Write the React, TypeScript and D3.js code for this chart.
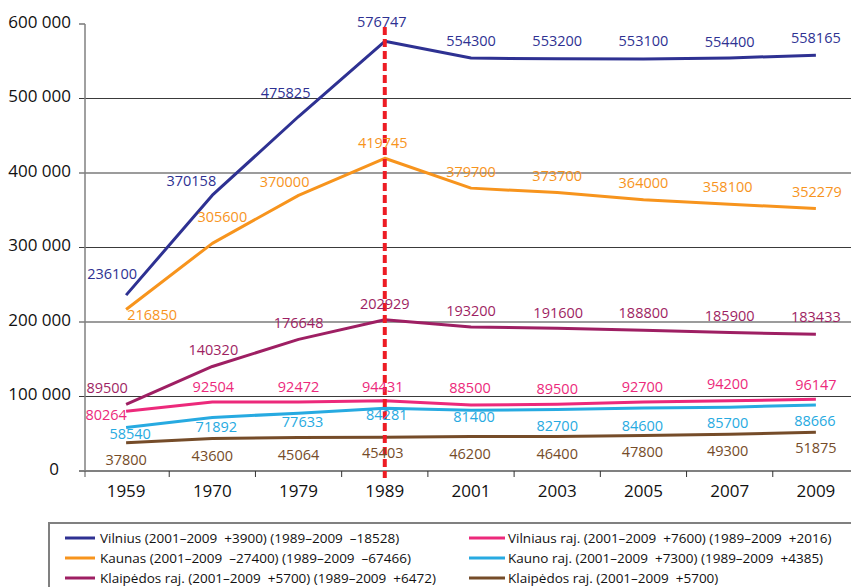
import React from "react";
import * as d3 from "d3";

const years = ["1959", "1970", "1979", "1989", "2001", "2003", "2005", "2007", "2009"];
const yTicks = [0, 100000, 200000, 300000, 400000, 500000, 600000];

const vilnius = [236100, 370158, 475825, 576747, 554300, 553200, 553100, 554400, 558165];
const kaunas = [216850, 305600, 370000, 419745, 379700, 373700, 364000, 358100, 352279];
const klaipeda = [89500, 140320, 176648, 202929, 193200, 191600, 188800, 185900, 183433];
const vilniausRaj = [80264, 92504, 92472, 94431, 88500, 89500, 92700, 94200, 96147];
const naunoRaj = [58540, 71892, 77633, 84281, 81400, 82700, 84600, 85700, 88666];
const klaipedosRaj = [37800, 43600, 45064, 45403, 46200, 46400, 47800, 49300, 51875];

const legendLabels = [
  "Vilnius (2001–2009  +3900) (1989–2009  –18528)",
  "Kaunas (2001–2009  –27400) (1989–2009  –67466)",
  "Klaipėdos raj. (2001–2009  +5700) (1989–2009  +6472)",
  "Vilniaus raj. (2001–2009  +7600) (1989–2009  +2016)",
  "Kauno raj. (2001–2009  +7300) (1989–2009  +4385)",
  "Klaipėdos raj. (2001–2009  +5700)",
];

// layout: label offsets (dx, dy) relative to each point
const labelDx = [
  [-14, -21, -13, -3, 0, 0, 0, 0, 0],
  [26, 10, -14, -2, 0, 0, 0, -2, 1],
  [-19, 1, 0, 0, 0, 1, 0, 0, 0],
  [-20, 1, 0, -2, -1, 0, -1, -2, 0],
  [4, 4, 4, 2, 3, 0, -1, -2, -1],
  [0, 0, 0, -2, -1, 0, -1, -2, 0],
];
const labelDy = [
  [-16, -9, -19, -14, -12, -13, -13, -11, -12],
  [11, -21, -8, -10, -11, -12, -12, -12, -12],
  [-11, -11, -11, -11, -11, -10, -12, -12, -12],
  [9, -10, -10, -9, -12, -10, -10, -12, -9],
  [12, 15, 14, 12, 12, 22, 23, 21, 21],
  [22, 22, 23, 21, 22, 23, 22, 22, 21],
];

const colors = ["#2e3192", "#f7941d", "#9e1f63", "#ec297b", "#27aae1", "#754c29"];
const series = [vilnius, kaunas, klaipeda, vilniausRaj, naunoRaj, klaipedosRaj];

export default function App() {
  const W = 851, H = 587;
  const x = d3.scaleBand<string>().domain(years).range([83, 859]);
  const y = d3.scaleLinear().domain([0, 600000]).range([471, 24]);
  const cx = (d: string) => (x(d) as number) + x.bandwidth() / 2;
  const line = d3
    .line<number>()
    .x((_, i) => cx(years[i]))
    .y((v) => y(v));
  const fmt = (v: number) => d3.format(",")(v).replace(/,/g, " ");
  const axisX = 85;
  const font = "'Open Sans', sans-serif";

  return (
    <svg width={W} height={H} style={{ position: "absolute", left: 0, top: 0, background: "#fff" }}>
      {/* gridlines */}
      {yTicks.filter((t) => t > 0 && t < 600000).map((t) => (
        <line key={t} x1={axisX - 6} x2={W} y1={y(t)} y2={y(t)} stroke="#3a3a3a" strokeWidth={1.2} />
      ))}
      <line x1={axisX - 6} x2={axisX} y1={y(600000)} y2={y(600000)} stroke="#777" strokeWidth={1.5} />
      {/* y axis */}
      <line x1={axisX} x2={axisX} y1={y(600000)} y2={y(0)} stroke="#808080" strokeWidth={1.5} />
      {/* x axis */}
      <line x1={axisX - 6} x2={W} y1={y(0)} y2={y(0)} stroke="#808080" strokeWidth={2} />
      {years.slice(0, -1).map((d) => (
        <line key={d} x1={(x(d) as number) + x.bandwidth()} x2={(x(d) as number) + x.bandwidth()} y1={y(0)} y2={y(0) + 6} stroke="#333" strokeWidth={1} />
      ))}
      <line x1={axisX} x2={axisX} y1={y(0)} y2={y(0) + 6} stroke="#555" strokeWidth={1} />
      {/* y tick labels */}
      {yTicks.map((t) => (
        <text key={t} x={t === 0 ? 59 : 71} y={y(t) - 1} textAnchor="end" dominantBaseline="middle" fontFamily={font} fontSize={17} fill="#111">
          {fmt(t)}
        </text>
      ))}
      {/* x tick labels */}
      {years.map((d) => (
        <text key={d} x={cx(d)} y={497} textAnchor="middle" fontFamily={font} fontSize={17} fill="#111">
          {d}
        </text>
      ))}
      {/* series lines */}
      {series.map((s, i) => (
        <path key={i} d={line(s) as string} fill="none" stroke={colors[i]} strokeWidth={3} strokeLinejoin="round" />
      ))}
      {/* 1989 dashed marker */}
      <line x1={cx("1989")} x2={cx("1989")} y1={27} y2={478} stroke="#ed1c24" strokeWidth={4} strokeDasharray="8 4" />
      {/* value labels */}
      {series.map((s, i) =>
        s.map((v, j) => (
          <text key={`${i}-${j}`} x={cx(years[j]) + labelDx[i][j]} y={y(v) + labelDy[i][j]} textAnchor="middle" fontFamily={font} fontSize={14.5} fill={colors[i]}>
            {v}
          </text>
        ))
      )}
      {/* legend */}
      <rect x={49} y={523} width={W} height={H} fill="none" stroke="#808080" strokeWidth={2} />
      {legendLabels.map((lab, i) => {
        const col = i < 3 ? 0 : 1;
        const row = i % 3;
        const cy = 538 + row * 20;
        const sx = col === 0 ? 65 : 469;
        const sw = col === 0 ? 30 : 36;
        const tx = col === 0 ? 100 : 508;
        return (
          <g key={i}>
            <line x1={sx} x2={sx + sw} y1={cy} y2={cy} stroke={colors[i]} strokeWidth={3} />
            <text x={tx} y={cy + 5} fontFamily={font} fontSize={13.5} fill="#111" style={{ whiteSpace: "pre" }}>
              {lab}
            </text>
          </g>
        );
      })}
    </svg>
  );
}
